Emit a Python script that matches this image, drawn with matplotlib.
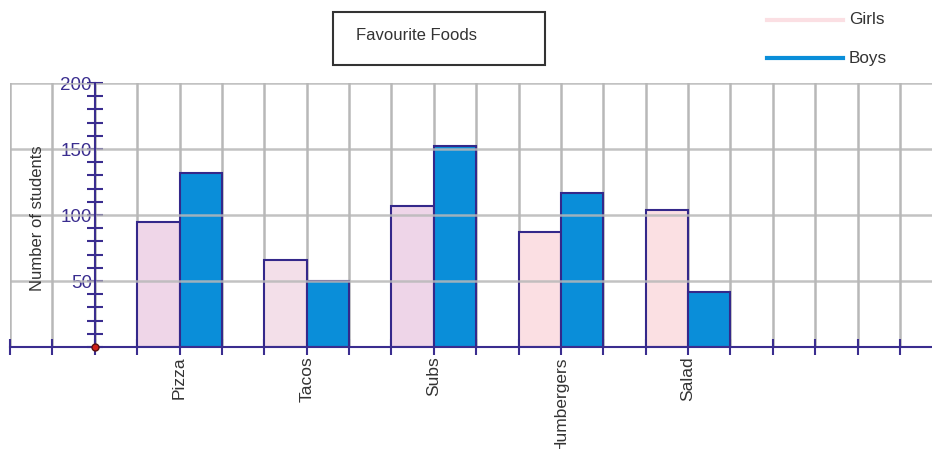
import numpy as np
import matplotlib
matplotlib.use("Agg")
import matplotlib.pyplot as plt
from matplotlib.lines import Line2D
from matplotlib.patches import Rectangle
from matplotlib.ticker import MultipleLocator

# data
foods = ["Pizza", "Tacos", "Subs", "Humbergers", "Salad"]
girls = [95, 66, 107, 87, 104]
boys = [132, 50, 152, 117, 42]
series_names = ["Girls", "Boys"]

# styling
girl_colors = ["#efd6e8", "#f3dfe9", "#eed5e8", "#fbdfe3", "#fbe0e3"]
boy_color = "#0a8ed9"
edge = "#34288a"
navy = "#3a2d8f"
grid_c = "#b8b8b8"
plt.rcParams["font.family"] = ["Liberation Sans", "DejaVu Sans"]

W, H = 932, 449
fig = plt.figure(figsize=(W / 100, H / 100), dpi=100)
# axes spans the grid area, one x unit = one grid cell
ax = fig.add_axes([10 / W, (H - 347) / H, (W - 10) / W, (347 - 83) / H])
unit = (900 - 10) / 21.0
ax.set_xlim(-2, -2 + (W - 10) / unit)
ax.set_ylim(0, 200)

# bars: girls on the left of each boundary, boys on the right
pos = 2 + 3 * np.arange(len(foods))
ax.bar(pos - 0.5, girls, width=1.0, color=girl_colors, edgecolor=edge, linewidth=1.5, zorder=2)
ax.bar(pos + 0.5, boys, width=1.0, color=boy_color, edgecolor=edge, linewidth=1.5, zorder=2)

# grid: vertical under bars, horizontal over bars
for xv in range(-2, 20):
    ax.axvline(xv, color=grid_c, lw=1.8, zorder=1)
for yv in [50, 100, 150, 200]:
    ax.axhline(yv, color=grid_c, lw=1.8, zorder=3, alpha=0.85)

# spines
for s in ["top", "right"]:
    ax.spines[s].set_visible(False)
ax.spines["left"].set_position(("data", 0))
ax.spines["left"].set_color(navy)
ax.spines["left"].set_linewidth(1.5)
ax.spines["left"].set_zorder(4)
ax.spines["bottom"].set_color(navy)
ax.spines["bottom"].set_linewidth(1.5)
ax.spines["bottom"].set_zorder(4)

# y ticks
ax.yaxis.set_minor_locator(MultipleLocator(10))
ax.set_yticks([50, 100, 150, 200])
ax.set_yticklabels(["50", "100", "150", "200"])
ax.tick_params(axis="y", which="both", direction="inout", length=12, width=1.5,
               color=navy, labelcolor=navy, labelsize=13.5, pad=-4)

# x ticks at every grid line, labels only at the food positions
xt = list(range(-2, 20))
labels = ["" for _ in xt]
for name, p in zip(foods, pos):
    labels[xt.index(int(p))] = name
ax.set_xticks(xt)
ax.set_xticklabels(labels, rotation=90, color="#333333", fontsize=12.5)
ax.tick_params(axis="x", direction="inout", length=12, width=1.5, color=navy, pad=1)

# origin dot
ax.plot([0], [0], "o", color="#d0201a", mec="#5a1010", ms=5, zorder=6, clip_on=False)

# y label
ax.text((38 - 95) / unit, (347 - 218) / 1.32, "Number of students", rotation=90,
        ha="center", va="center", fontsize=12, color="#333333")

# title box
fig.patches.append(Rectangle((333 / W, (H - 65) / H), 212 / W, 53 / H, transform=fig.transFigure,
                             fill=False, edgecolor="#333333", lw=1.5))
fig.text(356 / W, (H - 36) / H, "Favourite Foods", ha="left", va="center", fontsize=12, color="#333333")

# legend
for name, c, yy in zip(series_names, [girl_colors[3], boy_color], [20, 58]):
    fig.lines.append(Line2D([767 / W, 843 / W], [(H - yy) / H] * 2, transform=fig.transFigure,
                            color=c, lw=3))
    fig.text(849 / W, (H - yy) / H, name, ha="left", va="center", fontsize=12.3, color="#333333")

fig.savefig("out.png", dpi=100)
